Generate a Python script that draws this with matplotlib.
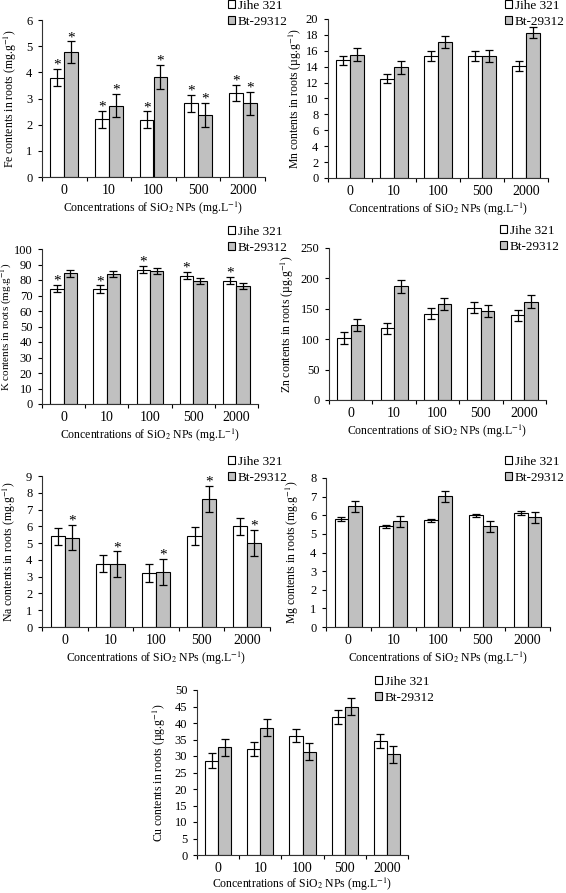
import matplotlib
matplotlib.use("Agg")
import matplotlib.pyplot as plt
import matplotlib.transforms as mtransforms
import numpy as np

plt.rcParams["font.family"] = ["Liberation Serif", "DejaVu Serif"]
plt.rcParams["mathtext.fontset"] = "stix"

concs = ["0", "10", "100", "500", "2000"]
series_names = ["Jihe 321", "Bt-29312"]

# --- values (mean, error) ---
fe_jihe = [3.80, 2.21, 2.19, 2.81, 3.22]
fe_jihe_err = [0.32, 0.32, 0.32, 0.32, 0.31]
fe_bt = [4.76, 2.73, 3.83, 2.37, 2.81]
fe_bt_err = [0.42, 0.45, 0.45, 0.45, 0.45]

mn_jihe = [14.8, 12.5, 15.35, 15.35, 14.1]
mn_jihe_err = [0.6, 0.6, 0.6, 0.6, 0.6]
mn_bt = [15.5, 13.9, 17.15, 15.35, 18.3]
mn_bt_err = [0.8, 0.8, 0.75, 0.8, 0.75]

k_jihe = [74.5, 74.0, 86.6, 82.8, 79.5]
k_jihe_err = [2.3, 2.5, 2.3, 2.3, 2.3]
k_bt = [84.3, 83.8, 85.8, 79.5, 75.9]
k_bt_err = [2.2, 2.0, 2.0, 2.0, 2.0]

zn_jihe = [101.6, 118.0, 141.8, 152.0, 139.0]
zn_jihe_err = [10, 9, 9, 9, 9]
zn_bt = [123.6, 186.8, 158.0, 147.0, 162.0]
zn_bt_err = [10, 10, 10, 10, 10]

na_jihe = [5.41, 3.78, 3.22, 5.43, 6.0]
na_jihe_err = [0.52, 0.52, 0.52, 0.52, 0.52]
na_bt = [5.33, 3.74, 3.28, 7.63, 5.03]
na_bt_err = [0.77, 0.77, 0.77, 0.77, 0.77]

mg_jihe = [5.81, 5.40, 5.72, 5.99, 6.11]
mg_jihe_err = [0.1, 0.1, 0.1, 0.1, 0.1]
mg_bt = [6.47, 5.68, 7.01, 5.40, 5.90]
mg_bt_err = [0.28, 0.3, 0.28, 0.28, 0.3]

cu_jihe = [28.6, 32.0, 36.2, 41.9, 34.5]
cu_jihe_err = [2.2, 2.1, 2.1, 2.1, 2.1]
cu_bt = [32.6, 38.6, 31.3, 44.9, 30.5]
cu_bt_err = [2.6, 2.6, 2.6, 2.6, 2.6]

# significance marks: (jihe, bt) per concentration
fe_star = [(1, 1)] * 5
k_star = [(1, 0)] * 5
na_star = [(0, 1)] * 5

W, H = 566, 893
fig = plt.figure(figsize=(W / 100, H / 100), dpi=100)


def px_axes(left, right, top, bottom):
    return fig.add_axes([left / W, 1 - bottom / H, (right - left) / W, (bottom - top) / H])


def panel(ax, a, a_err, b, b_err, ymax, step, ylabel, ylab_x, leg_xy, stars=None,
          ylab_size=8.5, xlab_pad=2):
    x = np.arange(len(concs))
    w = 0.31
    ekw = dict(ecolor="black", elinewidth=0.9, capsize=3, capthick=0.9)
    ax.bar(x - w / 2, a, w, yerr=a_err, color="white", edgecolor="black",
           linewidth=0.8, error_kw=ekw, label=series_names[0])
    ax.bar(x + w / 2, b, w, yerr=b_err, color="#c0c0c0", edgecolor="black",
           linewidth=0.8, error_kw=ekw, label=series_names[1])
    if stars:
        for i, (sa, sb) in enumerate(stars):
            if sa:
                ax.annotate("*", (x[i] - w / 2, a[i] + a_err[i]), xytext=(0, -2),
                            textcoords="offset points", ha="center", va="bottom", fontsize=11)
            if sb:
                ax.annotate("*", (x[i] + w / 2, b[i] + b_err[i]), xytext=(0, -2),
                            textcoords="offset points", ha="center", va="bottom", fontsize=11)
    ax.set_xlim(-0.5, len(concs) - 0.5)
    ax.set_ylim(0, ymax)
    ax.set_yticks(np.arange(0, ymax + step / 2, step))
    ax.set_xticks(np.arange(len(concs) + 1) - 0.5)
    ax.set_xticklabels([])
    ax.set_xticks(x, minor=True)
    ax.set_xticklabels(concs, minor=True)
    ax.tick_params(axis="x", which="minor", length=0, pad=5, labelsize=10)
    ax.tick_params(axis="x", which="major", length=3, direction="out")
    ax.tick_params(axis="y", length=3, direction="out", labelsize=9, pad=4)
    for s in ["top", "right"]:
        ax.spines[s].set_visible(False)
    for s in ["left", "bottom"]:
        ax.spines[s].set_color("#333333")
    ax.set_ylabel(ylabel, fontsize=ylab_size)
    tr = mtransforms.blended_transform_factory(fig.transFigure, ax.transAxes)
    ax.yaxis.set_label_coords(ylab_x / W, 0.5, transform=tr)
    ax.set_xlabel("Concentrations of SiO$_2$ NPs (mg.L$^{-1}$)", fontsize=8.5,
                  labelpad=xlab_pad)
    ax.legend(loc="upper left", bbox_to_anchor=(leg_xy[0] / W, 1 - leg_xy[1] / H),
              bbox_transform=fig.transFigure, frameon=False, fontsize=9.5,
              handlelength=0.55, handleheight=0.55, handletextpad=0.2,
              labelspacing=0.3, borderpad=0, borderaxespad=0)


ax = px_axes(42, 265, 20, 177)
panel(ax, fe_jihe, fe_jihe_err, fe_bt, fe_bt_err, 6, 1,
      "Fe contents in roots (mg.g$^{-1}$)", 19, (228, 0), fe_star)

ax = px_axes(328, 548, 19, 178)
panel(ax, mn_jihe, mn_jihe_err, mn_bt, mn_bt_err, 20, 2,
      "Mn contents in roots (µg.g$^{-1}$)", 304, (505, 0))

ax = px_axes(42, 258, 249, 404)
panel(ax, k_jihe, k_jihe_err, k_bt, k_bt_err, 100, 10,
      "K contents in roots (mg.g$^{-1}$)", 14.5, (228, 226), k_star, ylab_size=8)

ax = px_axes(329, 546, 248, 400)
panel(ax, zn_jihe, zn_jihe_err, zn_bt, zn_bt_err, 250, 50,
      "Zn contents in roots (µg.g$^{-1}$)", 296, (500, 225))

ax = px_axes(42, 270, 476, 627)
panel(ax, na_jihe, na_jihe_err, na_bt, na_bt_err, 9, 1,
      "Na contents in roots (mg.g$^{-1}$)", 18, (228, 456), na_star)

ax = px_axes(326, 550, 478, 627)
panel(ax, mg_jihe, mg_jihe_err, mg_bt, mg_bt_err, 8, 1,
      "Mg contents in roots (mg.g$^{-1}$)", 301, (505, 456))

ax = px_axes(197, 408, 690, 855)
panel(ax, cu_jihe, cu_jihe_err, cu_bt, cu_bt_err, 50, 5,
      "Cu contents in roots (µg.g$^{-1}$)", 168, (375, 676), xlab_pad=0.5)

fig.savefig("out.png", dpi=100)
